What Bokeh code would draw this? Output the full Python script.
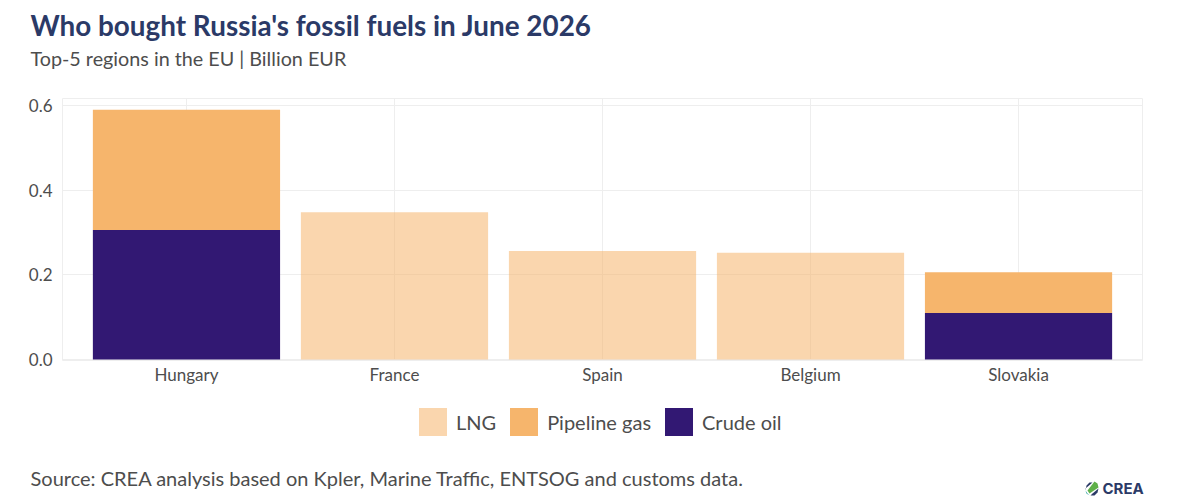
from bokeh.plotting import figure
from bokeh.layouts import column
from bokeh.models import FactorRange, Range1d, Label, Legend, LegendItem, NumeralTickFormatter, PolyAnnotation
from bokeh.embed import file_html
from bokeh.resources import INLINE

categories = ["Hungary", "France", "Spain", "Belgium", "Slovakia"]
crude_oil = [0.306, 0, 0, 0, 0.110]
pipeline_gas = [0.284, 0, 0, 0, 0.096]
lng = [0, 0.348, 0.256, 0.252, 0]
y_ticks = [0.0, 0.2, 0.4, 0.6]
FONT = "Lato"
W = 1184
CRUDE_COLOR = "#321873"
GAS_COLOR = "#f6b56c"
LNG_ALPHA = 0.55


def band(height):
    f = figure(width=W, height=height, output_backend="svg", toolbar_location=None,
               x_range=Range1d(0, W), y_range=Range1d(0, height), frame_align=False,
               min_border=0, min_border_left=0, min_border_right=0, min_border_top=0, min_border_bottom=0)
    f.axis.visible = False
    f.grid.visible = False
    f.outline_line_color = None
    return f


def text(f, s, x, y, size, color, style="normal", font=FONT):
    f.add_layout(Label(x=x, y=y, x_units="screen", y_units="screen", text=s, text_font=font,
                       text_font_size=size, text_color=color, text_font_style=style,
                       text_baseline="alphabetic"))


header = band(90)
text(header, "Who bought Russia's fossil fuels in June 2026", 30, 65, "27.85px", "#2b3a67", "bold")
text(header, "Top-5 regions in the EU | Billion EUR", 30, 32, "19.75px", "#4d4d4d")

p = figure(width=W, height=302, frame_width=1080, frame_height=262, frame_align=False,
           output_backend="svg", toolbar_location=None,
           x_range=FactorRange(factors=categories, range_padding=0.0384),
           y_range=Range1d(-0.0024, 0.6165),
           min_border_left=62, min_border_right=W - 1142, min_border_top=8, min_border_bottom=32)

src = dict(cat=categories, crude=crude_oil, pipe=pipeline_gas, lng=lng)
p.vbar_stack(["crude", "pipe", "lng"], x="cat", width=0.9, source=src,
             color=[CRUDE_COLOR, GAS_COLOR, GAS_COLOR], alpha=[1, 1, LNG_ALPHA], line_color=None)

p.xaxis.axis_line_color = None
p.yaxis.axis_line_color = None
p.xaxis.major_tick_line_color = None
p.yaxis.major_tick_line_color = None
p.xaxis.minor_tick_line_color = None
p.yaxis.minor_tick_line_color = None
p.xaxis.major_tick_out = 0
p.yaxis.major_tick_out = 0
p.yaxis.ticker = y_ticks
p.yaxis.formatter = NumeralTickFormatter(format="0.0")
for ax in (p.xaxis[0], p.yaxis[0]):
    ax.major_label_text_font = FONT
    ax.major_label_text_font_size = "17px"
    ax.major_label_text_color = "#4d4d4d"
p.xaxis.major_label_standoff = 3
p.yaxis.major_label_standoff = 10
p.xgrid.grid_line_color = "#eeeeee"
p.ygrid.grid_line_color = "#eeeeee"
p.outline_line_color = "#eeeeee"

# Legend keys: one point each, left of the visible range, only so the legend has a glyph to sample.
legend_band = band(58)
sw_lng = legend_band.vbar(x=[-10], top=[0], width=1, color=GAS_COLOR, alpha=LNG_ALPHA, line_color=None)
sw_gas = legend_band.vbar(x=[-10], top=[0], width=1, color=GAS_COLOR, line_color=None)
sw_oil = legend_band.vbar(x=[-10], top=[0], width=1, color=CRUDE_COLOR, line_color=None)
legend = Legend(items=[LegendItem(label="LNG", renderers=[sw_lng]),
                       LegendItem(label="Pipeline gas", renderers=[sw_gas]),
                       LegendItem(label="Crude oil", renderers=[sw_oil])],
                orientation="horizontal", location=(415, 11),
                glyph_width=35, glyph_height=35, label_standoff=6, spacing=10,
                padding=0, margin=0, border_line_color=None, background_fill_alpha=0,
                label_text_font=FONT, label_text_font_size="20px", label_text_color="#4d4d4d")
legend_band.add_layout(legend, "center")

footer = band(50)
text(footer, "Source: CREA analysis based on Kpler, Marine Traffic, ENTSOG and customs data.", 30, 23, "20px", "#4d4d4d")
text(footer, "CREA", 1102, 12, "15px", "#2b3a67", "bold", "Inter")


def logo_part(xs, ys, color):
    footer.add_layout(PolyAnnotation(xs=xs, ys=ys, xs_units="screen", ys_units="screen",
                                     fill_color=color, fill_alpha=1, line_alpha=0))


logo_part([1085, 1086, 1089, 1092, 1085], [10, 15, 18, 18, 12], "#2b3a67")
logo_part([1094, 1097, 1098, 1089, 1087], [19, 17, 13, 7, 10], "#5fb04a")
logo_part([1085, 1087, 1089, 1086], [10, 7, 5, 7], "#1f9c9a")
logo_part([1090, 1094, 1097, 1098, 1092], [5, 5, 8, 12, 7], "#2b3a67")

layout = column(header, p, legend_band, footer, spacing=0)
open("out.html", "w").write(file_html(layout, INLINE))
